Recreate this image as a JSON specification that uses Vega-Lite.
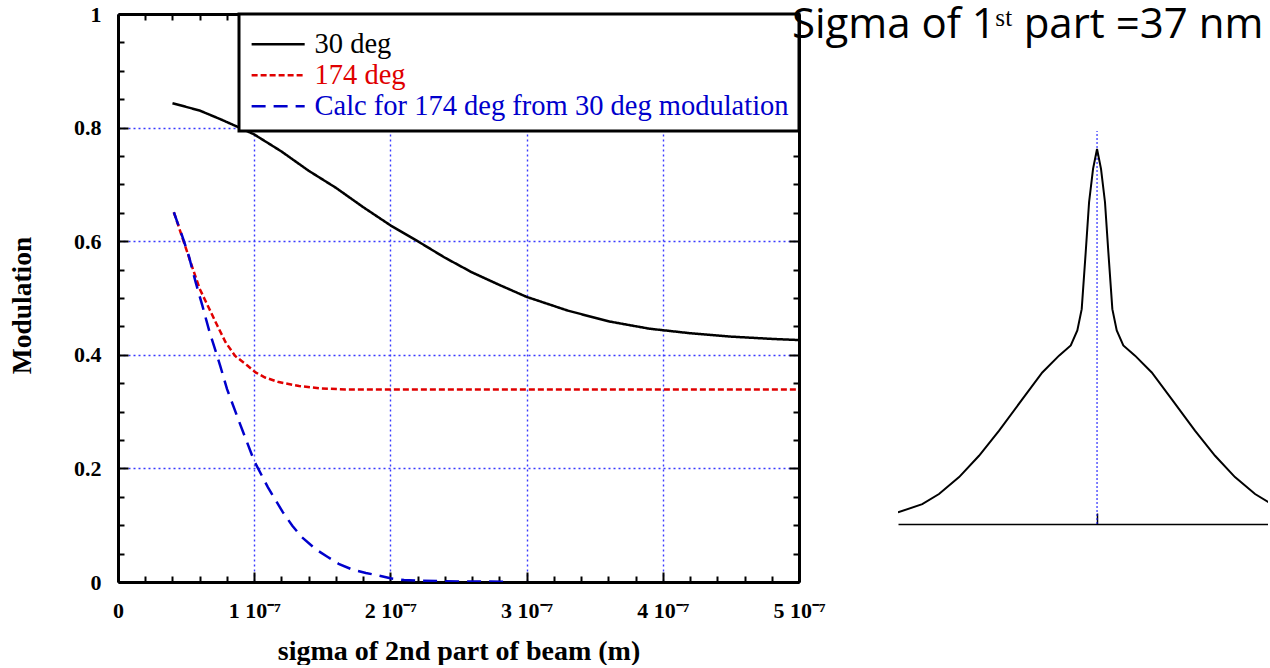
{
  "$schema": "https://vega.github.io/schema/vega-lite/v6.json",
  "background": "white",
  "padding": {"left": 8, "top": 3, "right": 0, "bottom": 0},
  "datasets": {
    "mod": [
      {"sigma": 4e-8, "m": 0.843, "series": "30 deg"},
      {"sigma": 6e-8, "m": 0.830, "series": "30 deg"},
      {"sigma": 7.5e-8, "m": 0.815, "series": "30 deg"},
      {"sigma": 9e-8, "m": 0.799, "series": "30 deg"},
      {"sigma": 1.0e-7, "m": 0.788, "series": "30 deg"},
      {"sigma": 1.2e-7, "m": 0.758, "series": "30 deg"},
      {"sigma": 1.4e-7, "m": 0.724, "series": "30 deg"},
      {"sigma": 1.6e-7, "m": 0.694, "series": "30 deg"},
      {"sigma": 1.8e-7, "m": 0.660, "series": "30 deg"},
      {"sigma": 2.0e-7, "m": 0.628, "series": "30 deg"},
      {"sigma": 2.2e-7, "m": 0.600, "series": "30 deg"},
      {"sigma": 2.4e-7, "m": 0.571, "series": "30 deg"},
      {"sigma": 2.6e-7, "m": 0.545, "series": "30 deg"},
      {"sigma": 2.8e-7, "m": 0.523, "series": "30 deg"},
      {"sigma": 3.0e-7, "m": 0.502, "series": "30 deg"},
      {"sigma": 3.3e-7, "m": 0.478, "series": "30 deg"},
      {"sigma": 3.6e-7, "m": 0.459, "series": "30 deg"},
      {"sigma": 3.9e-7, "m": 0.446, "series": "30 deg"},
      {"sigma": 4.2e-7, "m": 0.438, "series": "30 deg"},
      {"sigma": 4.5e-7, "m": 0.432, "series": "30 deg"},
      {"sigma": 4.8e-7, "m": 0.428, "series": "30 deg"},
      {"sigma": 5.0e-7, "m": 0.426, "series": "30 deg"},
      {"sigma": 4.1e-8, "m": 0.651, "series": "174 deg"},
      {"sigma": 4.8e-8, "m": 0.601, "series": "174 deg"},
      {"sigma": 5.5e-8, "m": 0.551, "series": "174 deg"},
      {"sigma": 6.0e-8, "m": 0.516, "series": "174 deg"},
      {"sigma": 6.7e-8, "m": 0.481, "series": "174 deg"},
      {"sigma": 7.3e-8, "m": 0.451, "series": "174 deg"},
      {"sigma": 7.9e-8, "m": 0.422, "series": "174 deg"},
      {"sigma": 8.6e-8, "m": 0.398, "series": "174 deg"},
      {"sigma": 9.5e-8, "m": 0.381, "series": "174 deg"},
      {"sigma": 1.01e-7, "m": 0.369, "series": "174 deg"},
      {"sigma": 1.08e-7, "m": 0.360, "series": "174 deg"},
      {"sigma": 1.18e-7, "m": 0.352, "series": "174 deg"},
      {"sigma": 1.33e-7, "m": 0.345, "series": "174 deg"},
      {"sigma": 1.48e-7, "m": 0.341, "series": "174 deg"},
      {"sigma": 1.67e-7, "m": 0.339, "series": "174 deg"},
      {"sigma": 2.0e-7, "m": 0.339, "series": "174 deg"},
      {"sigma": 3.0e-7, "m": 0.339, "series": "174 deg"},
      {"sigma": 4.0e-7, "m": 0.339, "series": "174 deg"},
      {"sigma": 5.0e-7, "m": 0.339, "series": "174 deg"},
      {"sigma": 4.1e-8, "m": 0.651, "series": "Calc for 174 deg from 30 deg modulation"},
      {"sigma": 4.7e-8, "m": 0.610, "series": "Calc for 174 deg from 30 deg modulation"},
      {"sigma": 5.2e-8, "m": 0.574, "series": "Calc for 174 deg from 30 deg modulation"},
      {"sigma": 5.7e-8, "m": 0.528, "series": "Calc for 174 deg from 30 deg modulation"},
      {"sigma": 6.2e-8, "m": 0.486, "series": "Calc for 174 deg from 30 deg modulation"},
      {"sigma": 6.7e-8, "m": 0.442, "series": "Calc for 174 deg from 30 deg modulation"},
      {"sigma": 7.2e-8, "m": 0.404, "series": "Calc for 174 deg from 30 deg modulation"},
      {"sigma": 7.5e-8, "m": 0.381, "series": "Calc for 174 deg from 30 deg modulation"},
      {"sigma": 8.0e-8, "m": 0.340, "series": "Calc for 174 deg from 30 deg modulation"},
      {"sigma": 8.9e-8, "m": 0.282, "series": "Calc for 174 deg from 30 deg modulation"},
      {"sigma": 1.0e-7, "m": 0.213, "series": "Calc for 174 deg from 30 deg modulation"},
      {"sigma": 1.1e-7, "m": 0.167, "series": "Calc for 174 deg from 30 deg modulation"},
      {"sigma": 1.21e-7, "m": 0.123, "series": "Calc for 174 deg from 30 deg modulation"},
      {"sigma": 1.28e-7, "m": 0.099, "series": "Calc for 174 deg from 30 deg modulation"},
      {"sigma": 1.35e-7, "m": 0.079, "series": "Calc for 174 deg from 30 deg modulation"},
      {"sigma": 1.45e-7, "m": 0.058, "series": "Calc for 174 deg from 30 deg modulation"},
      {"sigma": 1.54e-7, "m": 0.044, "series": "Calc for 174 deg from 30 deg modulation"},
      {"sigma": 1.62e-7, "m": 0.032, "series": "Calc for 174 deg from 30 deg modulation"},
      {"sigma": 1.72e-7, "m": 0.022, "series": "Calc for 174 deg from 30 deg modulation"},
      {"sigma": 1.82e-7, "m": 0.016, "series": "Calc for 174 deg from 30 deg modulation"},
      {"sigma": 1.92e-7, "m": 0.011, "series": "Calc for 174 deg from 30 deg modulation"},
      {"sigma": 2.0e-7, "m": 0.0065, "series": "Calc for 174 deg from 30 deg modulation"},
      {"sigma": 2.1e-7, "m": 0.0035, "series": "Calc for 174 deg from 30 deg modulation"},
      {"sigma": 2.21e-7, "m": 0.0023, "series": "Calc for 174 deg from 30 deg modulation"},
      {"sigma": 2.5e-7, "m": 0.001, "series": "Calc for 174 deg from 30 deg modulation"},
      {"sigma": 2.85e-7, "m": 0.0005, "series": "Calc for 174 deg from 30 deg modulation"}
    ],
    "peak": [
      {"u": -1.0, "v": 0.031},
      {"u": -0.878, "v": 0.053},
      {"u": -0.794, "v": 0.08},
      {"u": -0.693, "v": 0.125},
      {"u": -0.593, "v": 0.182},
      {"u": -0.492, "v": 0.249},
      {"u": -0.375, "v": 0.333},
      {"u": -0.275, "v": 0.404},
      {"u": -0.191, "v": 0.449},
      {"u": -0.132, "v": 0.476},
      {"u": -0.099, "v": 0.516},
      {"u": -0.077, "v": 0.573},
      {"u": -0.057, "v": 0.724},
      {"u": -0.040, "v": 0.858},
      {"u": -0.020, "v": 0.947},
      {"u": 0.0, "v": 1.0},
      {"u": 0.020, "v": 0.947},
      {"u": 0.040, "v": 0.858},
      {"u": 0.057, "v": 0.724},
      {"u": 0.077, "v": 0.573},
      {"u": 0.099, "v": 0.516},
      {"u": 0.132, "v": 0.476},
      {"u": 0.191, "v": 0.449},
      {"u": 0.275, "v": 0.404},
      {"u": 0.375, "v": 0.333},
      {"u": 0.492, "v": 0.249},
      {"u": 0.593, "v": 0.182},
      {"u": 0.693, "v": 0.125},
      {"u": 0.794, "v": 0.08},
      {"u": 0.878, "v": 0.053},
      {"u": 1.0, "v": 0.031}
    ]
  },
  "hconcat": [
    {
      "width": 681,
      "height": 568,
      "data": {"name": "mod"},
      "layer": [
        {
          "mark": {"type": "line", "strokeWidth": 2.5, "clip": true},
          "encoding": {
            "x": {
              "field": "sigma", "type": "quantitative",
              "scale": {"domain": [0, 5e-7], "nice": false, "zero": false},
              "axis": {
                "orient": "bottom", "values": [0, 1e-7, 2e-7, 3e-7, 4e-7, 5e-7],
                "labelExpr": "datum.value === 0 ? '0' : round(datum.value * 1e7) + ' 10⁻⁷'",
                "tickSize": -10, "labelPadding": 28, "grid": true, "domain": true,
                "title": "sigma of 2nd part of beam (m)", "titlePadding": 16, "titleFontSize": 28
              }
            },
            "y": {
              "field": "m", "type": "quantitative",
              "scale": {"domain": [0, 1], "nice": false, "zero": false},
              "axis": {
                "orient": "left", "values": [0, 0.2, 0.4, 0.6, 0.8, 1],
                "labelExpr": "datum.value === 0 ? '0' : datum.value === 1 ? '1' : format(datum.value, '.1f')",
                "tickSize": -10, "labelPadding": 27, "grid": true, "domain": true,
                "title": "Modulation", "titlePadding": 37, "titleY": 291, "titleFontSize": 27.5
              }
            },
            "color": {
              "field": "series", "type": "nominal",
              "scale": {"domain": ["30 deg", "174 deg", "Calc for 174 deg from 30 deg modulation"], "range": ["#000000", "#e00000", "#0000cc"]},
              "legend": {
                "title": " ", "titleFontSize": 1, "titlePadding": 5, "orient": "top-right", "offset": 0, "padding": 10,
                "strokeColor": "black", "fillColor": "white",
                "labelFont": "Liberation Serif", "labelFontSize": 28.5, "labelFontWeight": "normal", "labelLimit": 0,
                "symbolType": "M-1,0H7", "symbolSize": 176, "symbolStrokeWidth": 2.5, "symbolOffset": -5, "labelOffset": 42, "rowPadding": 2,
                "encode": {
                  "legend": {"update": {"strokeWidth": {"value": 3}}},
                  "labels": {"update": {"fill": {"signal": "datum.value === '30 deg' ? '#000000' : datum.value === '174 deg' ? '#e00000' : '#0000cc'"}}}
                }
              }
            },
            "strokeDash": {
              "field": "series", "type": "nominal",
              "scale": {"domain": ["30 deg", "174 deg", "Calc for 174 deg from 30 deg modulation"], "range": [[1, 0], [6, 3], [14, 8]]},
              "legend": {
                "title": " ", "titleFontSize": 1, "titlePadding": 5, "orient": "top-right", "offset": 0, "padding": 10,
                "strokeColor": "black", "fillColor": "white",
                "labelFont": "Liberation Serif", "labelFontSize": 28.5, "labelFontWeight": "normal", "labelLimit": 0,
                "symbolType": "M-1,0H7", "symbolSize": 176, "symbolStrokeWidth": 2.5, "symbolOffset": -5, "labelOffset": 42, "rowPadding": 2,
                "encode": {
                  "legend": {"update": {"strokeWidth": {"value": 3}}},
                  "labels": {"update": {"fill": {"signal": "datum.value === '30 deg' ? '#000000' : datum.value === '174 deg' ? '#e00000' : '#0000cc'"}}}
                }
              }
            }
          }
        },
        {
          "mark": {"type": "point", "opacity": 0},
          "encoding": {
            "x": {
              "field": "sigma", "type": "quantitative",
              "scale": {"domain": [0, 5e-7], "nice": false, "zero": false},
              "axis": {"orient": "bottom", "values": [2e-8, 4e-8, 6e-8, 8e-8, 1.2e-7, 1.4e-7, 1.6e-7, 1.8e-7, 2.2e-7, 2.4e-7, 2.6e-7, 2.8e-7, 3.2e-7, 3.4e-7, 3.6e-7, 3.8e-7, 4.2e-7, 4.4e-7, 4.6e-7, 4.8e-7],
                "labels": false, "grid": false, "domain": false, "tickSize": -6, "title": null}
            },
            "y": {
              "field": "m", "type": "quantitative",
              "scale": {"domain": [0, 1], "nice": false, "zero": false},
              "axis": {"orient": "left", "values": [0.05, 0.1, 0.15, 0.25, 0.3, 0.35, 0.45, 0.5, 0.55, 0.65, 0.7, 0.75, 0.85, 0.9, 0.95],
                "labels": false, "grid": false, "domain": false, "tickSize": -6, "title": null}
            }
          }
        },
        {
          "mark": {"type": "point", "opacity": 0},
          "encoding": {
            "x": {
              "field": "sigma", "type": "quantitative",
              "scale": {"domain": [0, 5e-7], "nice": false, "zero": false},
              "axis": {"orient": "top", "values": [0, 1e-7, 2e-7, 3e-7, 4e-7, 5e-7],
                "labels": false, "grid": false, "domain": true, "tickSize": -10, "title": null}
            },
            "y": {
              "field": "m", "type": "quantitative",
              "scale": {"domain": [0, 1], "nice": false, "zero": false},
              "axis": {"orient": "right", "values": [0, 0.2, 0.4, 0.6, 0.8, 1],
                "labels": false, "grid": false, "domain": true, "tickSize": -10, "title": null}
            }
          }
        },
        {
          "mark": {"type": "point", "opacity": 0},
          "encoding": {
            "x": {
              "field": "sigma", "type": "quantitative",
              "scale": {"domain": [0, 5e-7], "nice": false, "zero": false},
              "axis": {"orient": "top", "values": [2e-8, 4e-8, 6e-8, 8e-8, 1.2e-7, 1.4e-7, 1.6e-7, 1.8e-7, 2.2e-7, 2.4e-7, 2.6e-7, 2.8e-7, 3.2e-7, 3.4e-7, 3.6e-7, 3.8e-7, 4.2e-7, 4.4e-7, 4.6e-7, 4.8e-7],
                "labels": false, "grid": false, "domain": false, "tickSize": -6, "title": null}
            },
            "y": {
              "field": "m", "type": "quantitative",
              "scale": {"domain": [0, 1], "nice": false, "zero": false},
              "axis": {"orient": "right", "values": [0.05, 0.1, 0.15, 0.25, 0.3, 0.35, 0.45, 0.5, 0.55, 0.65, 0.7, 0.75, 0.85, 0.9, 0.95],
                "labels": false, "grid": false, "domain": false, "tickSize": -6, "title": null}
            }
          }
        }
      ],
      "resolve": {"axis": {"x": "independent", "y": "independent"}}
    },
    {
      "width": 370,
      "height": 510,
      "layer": [
        {
          "data": {"values": [{}]},
          "mark": {"type": "rule", "color": "#0000ff", "strokeDash": [2, 2], "strokeWidth": 1},
          "encoding": {
            "x": {"datum": 0, "type": "quantitative", "scale": {"domain": [-1, 0.859], "nice": false, "zero": false},
              "axis": {"orient": "bottom", "values": [0], "labels": false, "grid": false, "domain": true, "domainWidth": 1.5, "tickSize": -11, "tickWidth": 1.5, "title": null}},
            "y": {"datum": 0, "type": "quantitative", "scale": {"domain": [0, 1.36], "nice": false, "zero": false}, "axis": null},
            "y2": {"datum": 1.048}
          }
        },
        {
          "data": {"name": "peak"},
          "mark": {"type": "line", "color": "black", "strokeWidth": 2, "clip": true},
          "encoding": {
            "x": {"field": "u", "type": "quantitative", "scale": {"domain": [-1, 0.859], "nice": false, "zero": false},
              "axis": {"orient": "bottom", "values": [0], "labels": false, "grid": false, "domain": true, "domainWidth": 1.5, "tickSize": -11, "tickWidth": 1.5, "title": null}},
            "y": {"field": "v", "type": "quantitative", "scale": {"domain": [0, 1.36], "nice": false, "zero": false}, "axis": null}
          }
        },
        {
          "data": {"values": [{}]},
          "mark": {"type": "text", "font": "Open Sans", "fontSize": 42, "align": "left", "baseline": "alphabetic", "color": "black"},
          "encoding": {
            "x": {"datum": -1.533, "type": "quantitative"},
            "y": {"datum": 1.296, "type": "quantitative"},
            "text": {"value": "Sigma of 1ˢᵗ part =37 nm"}
          }
        }
      ]
    }
  ],
  "spacing": 99,
  "bounds": "flush",
  "resolve": {
    "scale": {"x": "independent", "y": "independent", "color": "independent", "strokeDash": "independent"},
    "legend": {"color": "independent", "strokeDash": "independent"}
  },
  "config": {
    "view": {"stroke": null},
    "axis": {
      "labelFont": "Liberation Serif", "labelFontWeight": "bold", "labelFontSize": 22, "labelColor": "black",
      "titleFont": "Liberation Serif", "titleFontWeight": "bold", "titleFontSize": 27, "titleColor": "black",
      "tickColor": "black", "tickWidth": 2, "domainColor": "black", "domainWidth": 3,
      "gridColor": "#3a3aff", "gridDash": [2, 3], "gridWidth": 1.4,
      "labelFlush": false, "labelOverlap": false, "labelBound": false
    }
  }
}
